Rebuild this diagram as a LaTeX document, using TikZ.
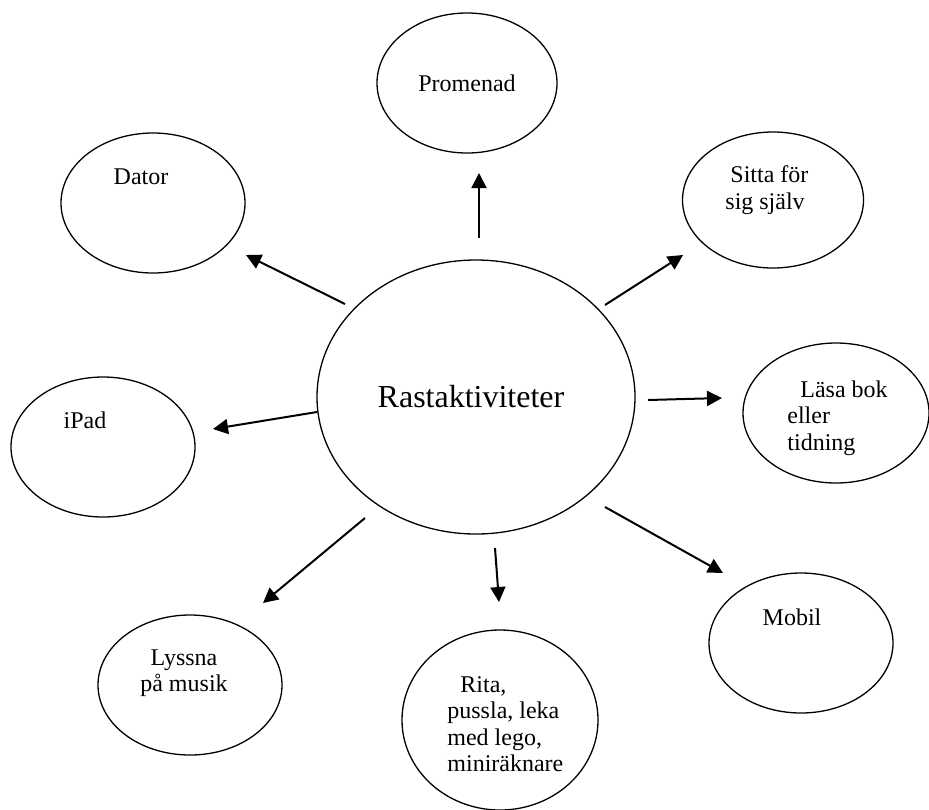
\documentclass[tikz,border=0pt]{standalone}
\usepackage{fontspec}
\setmainfont{Liberation Serif}
\usepackage{tikz}
\usetikzlibrary{shapes.geometric, arrows.meta}

\tikzset{
  boll/.style={draw, ellipse, line width=0.65pt, inner sep=0pt},
  pil/.style={-{Triangle[length=7.5pt,width=7.5pt]}, line width=1pt},
  txt/.style={inner sep=0pt, font=\fontsize{12}{13.2}\selectfont}
}

\begin{document}
\begin{tikzpicture}[x=0.5pt, y=-0.5pt]
    \useasboundingbox (0,0) rectangle (929,809);

    % mitten
    \node[boll, minimum width=159pt, minimum height=137pt] (rast) at (476,397) {};
    \node[inner sep=0pt, font=\fontsize{16}{18}\selectfont] (rast-txt) at (471,397) {Rastaktiviteter};

    % bollarna runt om
    \node[boll, minimum width=90pt, minimum height=70pt] (promenad) at (467,83) {};
    \node[boll, minimum width=92pt, minimum height=70pt] (dator) at (153,203) {};
    \node[boll, minimum width=90.5pt, minimum height=68pt] (sitta) at (773,200) {};
    \node[boll, minimum width=93pt, minimum height=70pt] (lasa) at (836,413) {};
    \node[boll, minimum width=92pt, minimum height=70pt] (ipad) at (103,447) {};
    \node[boll, minimum width=92pt, minimum height=70pt] (mobil) at (801,643) {};
    \node[boll, minimum width=98pt, minimum height=90pt] (rita) at (500,720) {};
    \node[boll, minimum width=92pt, minimum height=70pt] (lyssna) at (190,685) {};

    % texterna
    \node[txt] (promenad-txt) at (467,83) {Promenad};
    \node[txt] (dator-txt) at (141,177) {Dator};
    \node[txt, align=left, anchor=west] (sitta-txt) at (725,190) {\hspace{2.5pt}Sitta för\\sig själv};
    \node[txt, align=left, anchor=west] (lasa-txt) at (787,418) {\hspace{6.5pt}Läsa bok\\eller\\tidning};
    \node[txt] (ipad-txt) at (85,420) {iPad};
    \node[txt] (mobil-txt) at (792,617) {Mobil};
    \node[txt, align=left, anchor=west] (rita-txt) at (447,724) {\hspace{6.5pt}Rita,\\pussla, leka\\med lego,\\miniräknare};
    \node[txt, align=center] (lyssna-txt) at (184,673) {Lyssna\\på musik};

    % pilarnas ändar
    \coordinate (p-ut) at (479,238);  \coordinate (p-in) at (479,173);
    \coordinate (d-ut) at (345,304);  \coordinate (d-in) at (246,255);
    \coordinate (s-ut) at (605,305);  \coordinate (s-in) at (683,255);
    \coordinate (l-ut) at (648,400);  \coordinate (l-in) at (722,398);
    \coordinate (i-ut) at (317,412);  \coordinate (i-in) at (213,429);
    \coordinate (m-ut) at (605,507);  \coordinate (m-in) at (723,573);
    \coordinate (r-ut) at (495,548);  \coordinate (r-in) at (499,602);
    \coordinate (y-ut) at (365,518);  \coordinate (y-in) at (263,603);

    % pilar
    \draw[pil] (p-ut) -- (p-in);
    \draw[pil] (d-ut) -- (d-in);
    \draw[pil] (s-ut) -- (s-in);
    \draw[pil] (l-ut) -- (l-in);
    \draw[pil] (i-ut) -- (i-in);
    \draw[pil] (m-ut) -- (m-in);
    \draw[pil] (r-ut) -- (r-in);
    \draw[pil] (y-ut) -- (y-in);
\end{tikzpicture}
\end{document}
